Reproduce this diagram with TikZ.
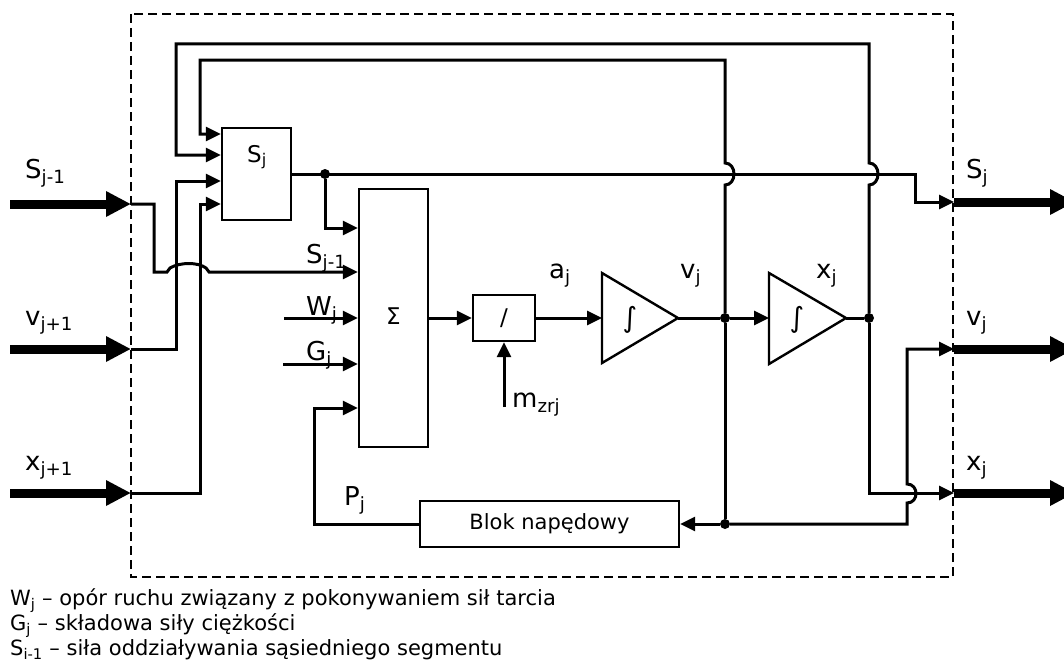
\documentclass[tikz,border=0pt]{standalone}
\usepackage{fontspec}
\setmainfont{DejaVu Sans}
\usetikzlibrary{arrows.meta,calc}
\newcommand{\lblfont}{\fontsize{26}{30}\selectfont}
\newcommand{\blkfont}{\fontsize{21}{25}\selectfont}
\newcommand{\symfont}{\fontsize{23}{27}\selectfont}
\newcommand{\lgdfont}{\fontsize{21}{25}\selectfont}
\begin{document}
\begin{tikzpicture}[x=1pt,y=-1pt,
  ln/.style={line width=3pt},
  arr/.style={line width=3pt,-{Triangle[length=15pt,width=14pt]}},
  big/.style={line width=9pt,-{Triangle[length=25pt,width=24pt]}},
  blockbox/.style={draw,line width=2.4pt,inner sep=0pt,font=\blkfont},
  lab/.style={anchor=base west,inner sep=0pt,font=\lblfont},
  lgd/.style={anchor=base west,inner sep=0pt,font=\lgdfont},
  dotn/.style={circle,fill=black,inner sep=0pt,minimum size=10pt},
  frame/.style={line width=2.2pt,dash pattern=on 9pt off 5pt}
]
\useasboundingbox (0,0) rectangle (1064,661);
\draw[frame] (131,14) rectangle (953,577);

% blocks
\node[blockbox,minimum width=69pt,minimum height=92pt] (sj) at (256.5,174) {};
\node[anchor=base west,inner sep=0pt,font=\symfont] (sjt) at (247,162) {S\textsubscript{j}};
\node[blockbox,minimum width=69pt,minimum height=258pt,font=\symfont] (sum) at (393.5,318) {\raisebox{3pt}{Σ}};
\node[blockbox,minimum width=62pt,minimum height=46pt,font=\symfont] (div) at (504,318) {/};
\node[blockbox,minimum width=259pt,minimum height=46pt] (blok) at (549.5,524) {Blok napędowy};

% integrators
\coordinate (i1in) at (602,318);
\coordinate (i1out) at (678,318);
\coordinate (i2in) at (769,318);
\coordinate (i2out) at (846,318);
\draw[line width=2.4pt] (602,273) -- (i1out) -- (602,363) -- cycle;
\draw[line width=2.4pt] (769,273) -- (i2out) -- (769,364) -- cycle;
\node[font=\fontsize{28}{30}\selectfont,inner sep=0pt] (int1) at (630,320) {∫};
\node[font=\fontsize{28}{30}\selectfont,inner sep=0pt] (int2) at (797,320) {∫};

% junctions
\node[dotn] (dS) at (325,174) {};
\node[dotn] (dV) at (725,318) {};
\node[dotn] (dX) at (869,318) {};
\node[dotn] (dB) at (725,524) {};

% inputs and outputs
\coordinate (sS) at (10,204);   \coordinate (inS) at (131,204);
\coordinate (sV) at (10,349);   \coordinate (inV) at (131,349);
\coordinate (sX) at (10,493);   \coordinate (inX) at (131,493);
\coordinate (oS) at (954,202);  \coordinate (eS) at (1075,202);
\coordinate (oV) at (954,349);  \coordinate (eV) at (1075,349);
\coordinate (oX) at (954,493);  \coordinate (eX) at (1075,493);
\draw[big] (sS) -- (inS);
\draw[big] (sV) -- (inV);
\draw[big] (sX) -- (inX);
\draw[big] (oS) -- (eS);
\draw[big] (oV) -- (eV);
\draw[big] (oX) -- (eX);

% inputs into Sj block
\draw[arr] (inV) -- (176,349) -- (176,181) -- ($(sj.west)+(0,7)$);
\draw[arr] (inX) -- (200,493) -- (200,204) -- ($(sj.west)+(0,30)$);
% S(j-1) to sum, jumping over two lines
\draw[arr] (inS) -- (154,204) -- (154,272) -- (167,272) -- (170,268)
  .. controls (180,262) and (198,262) .. (206,268) -- (209,272) -- ($(sum.west)+(0,-46)$);

% feedback v
\draw[arr] (dV) -- (725,185) .. controls (737,185) and (737,163) .. (725,163)
  -- (725,60) -- (200,60) -- (200,134) -- ($(sj.west)+(0,-40)$);
% feedback x
\draw[arr] (dX) -- (869,185) .. controls (881,185) and (881,163) .. (869,163)
  -- (869,44) -- (176,44) -- (176,155) -- ($(sj.west)+(0,-19)$);

% Sj output
\draw[arr] (sj.east) -- (915,174) -- (915,202) -- (oS);
\draw[arr] (dS) -- (325,228) -- ($(sum.west)+(0,-90)$);

% other sum inputs
\coordinate (wS) at (284,318);
\coordinate (gS) at (283,364);
\draw[arr] (wS) -- (sum.west);
\draw[arr] (gS) -- ($(sum.west)+(0,46)$);
\draw[arr] (blok.west) -- (314,524) -- (314,408) -- ($(sum.west)+(0,90)$);

% forward chain
\coordinate (mS) at (504,407);
\draw[arr] (sum.east) -- (div.west);
\draw[arr] (mS) -- (div.south);
\draw[arr] (div.east) -- (i1in);
\draw[ln] (i1out) -- (dV);
\draw[arr] (dV) -- (i2in);
\draw[ln] (i2out) -- (dX);
\draw[ln] (dV) -- (dB);
\draw[arr] (dX) -- (869,493) -- (oX);
\draw[arr] (dB) -- (blok.east);
\draw[arr] (dB) -- (907,524) -- (907,503) .. controls (919,503) and (919,484) .. (907,484)
  -- (907,349) -- (oV);

% labels
\node[lab] (lSin) at (25,178) {S\textsubscript{j-1}};
\node[lab] (lVin) at (25,325) {v\textsubscript{j+1}};
\node[lab] (lXin) at (25,470) {x\textsubscript{j+1}};
\node[lab] (lSout) at (966,178) {S\textsubscript{j}};
\node[lab] (lVout) at (966,325) {v\textsubscript{j}};
\node[lab] (lXout) at (966,470) {x\textsubscript{j}};
\node[lab] (lS1) at (306,263) {S\textsubscript{j-1}};
\node[lab] (lW) at (306,315) {W\textsubscript{j}};
\node[lab] (lG) at (306,360) {G\textsubscript{j}};
\node[lab] (la) at (549,278) {a\textsubscript{j}};
\node[lab] (lv) at (680,278) {v\textsubscript{j}};
\node[lab] (lx) at (816,278) {x\textsubscript{j}};
\node[lab] (lm) at (512,407) {m\textsubscript{zrj}};
\node[lab] (lP) at (344,505) {P\textsubscript{j}};

% legend
\node[lgd] (l1) at (10,605) {W\textsubscript{j} – opór ruchu związany z pokonywaniem sił tarcia};
\node[lgd] (l2) at (10,630) {G\textsubscript{j} – składowa siły ciężkości};
\node[lgd] (l3) at (10,655) {S\textsubscript{i-1} – siła oddziaływania sąsiedniego segmentu};
\end{tikzpicture}
\end{document}
